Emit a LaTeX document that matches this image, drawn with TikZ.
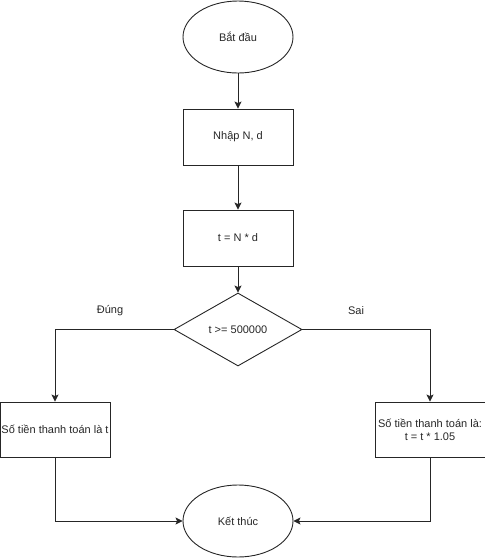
\documentclass[tikz,border=0pt]{standalone}
\usepackage{fontspec}
\setmainfont{Liberation Sans}
\usetikzlibrary{shapes.geometric,arrows.meta}
\begin{document}
\begin{tikzpicture}[x=1pt,y=-1pt,
  every node/.style={font=\fontsize{11}{13}\selectfont, text=black!85},
  line/.style={draw=black!85, line width=0.9pt},
  arr/.style={line, -{Stealth[length=7pt,width=7pt,inset=1.5pt]}},
  term/.style={line, ellipse, minimum width=110pt, minimum height=72pt, inner sep=0pt},
  proc/.style={line, rectangle, minimum width=110pt, minimum height=56pt, inner sep=0pt, align=center},
  dec/.style={line, diamond, aspect=1.75, minimum width=128pt, minimum height=73pt, inner sep=0pt},
  lbl/.style={inner sep=0pt}]
\useasboundingbox (0,0) rectangle (485,558);
\node[term] (start) at (238,37) {Bắt đầu};
\node[proc] (input) at (238,137) {Nhập N, d};
\node[proc] (calc) at (238,238) {t = N * d};
\node[dec] (cond) at (238,329.5) {t >= 500000};
\node[proc, minimum height=55pt] (yes) at (55,429.5) {Số tiền thanh toán là t};
\node[proc, minimum height=55pt] (no) at (430,429.5) {Số tiền thanh toán là:\\t = t * 1.05};
\node[term] (end) at (238,521) {Kết thúc};
\node[lbl] (lyes) at (110,311) {Đúng};
\node[lbl] (lno) at (356,311) {Sai};
\draw[arr] (start) -- (input);
\draw[arr] (input) -- (calc);
\draw[arr] (calc) -- (cond);
\draw[arr] (cond.west) -| (yes.north);
\draw[arr] (cond.east) -| (no.north);
\draw[arr] (yes.south) |- (end.west);
\draw[arr] (no.south) |- (end.east);
\end{tikzpicture}
\end{document}
